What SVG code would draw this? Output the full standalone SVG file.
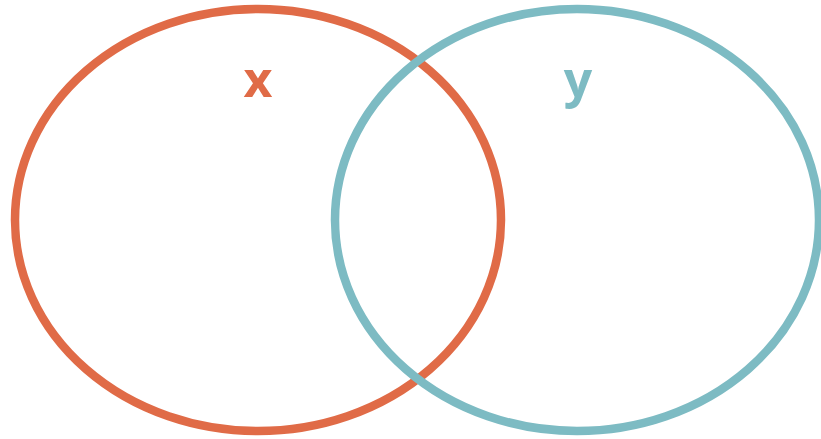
<svg xmlns="http://www.w3.org/2000/svg" width="821" height="439" viewBox="0 0 821 439">
<style>
.set{fill:none;stroke-width:8.5}
.lbl{font-family:"Open Sans","Liberation Sans",sans-serif;font-weight:700;font-size:50px;text-anchor:middle}
</style>
<rect width="821" height="439" fill="#ffffff"/>
<g id="set-x">
<ellipse class="set" cx="258" cy="220" rx="243" ry="211" stroke="#E06B47"/>
<text class="lbl" x="258" y="97" fill="#E06B47">x</text>
</g>
<g id="set-y">
<ellipse class="set" cx="577" cy="220" rx="242" ry="211" stroke="#7DBBC3"/>
<text class="lbl" x="578" y="97" fill="#7DBBC3">y</text>
</g>
<g id="connectors"></g>
</svg>
